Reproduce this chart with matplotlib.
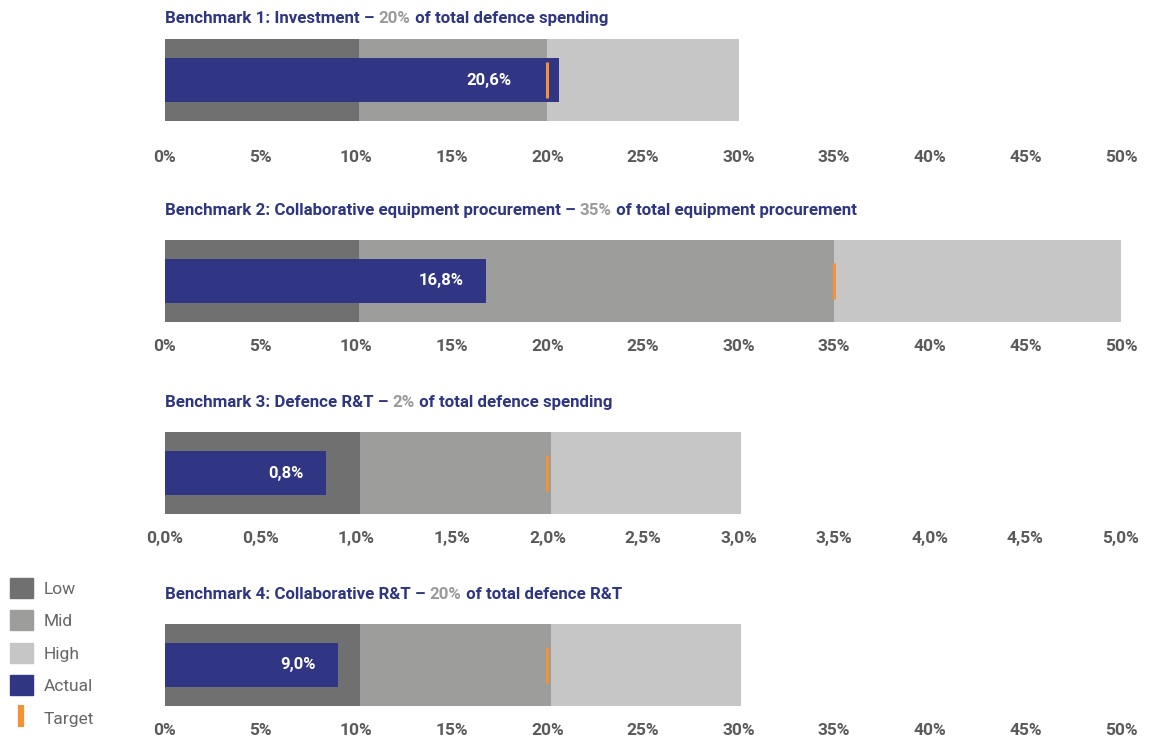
import matplotlib.pyplot as plt
from matplotlib.patches import Patch
from matplotlib.lines import Line2D

plt.rcParams['font.family'] = ['Roboto', 'DejaVu Sans']

# data
title_start = ['Benchmark 1: Investment – ',
               'Benchmark 2: Collaborative equipment procurement – ',
               'Benchmark 3: Defence R&T – ',
               'Benchmark 4: Collaborative R&T – ']
title_target = ['20%', '35%', '2%', '20%']
title_end = [' of total defence spending',
             ' of total equipment procurement',
             ' of total defence spending',
             ' of total defence R&T']

low = [10.15, 10.15, 1.02, 10.2]
mid = [20, 35, 2.02, 20.2]
high = [30, 50, 3.01, 30.1]
actual = [20.6, 16.8, 0.84, 9.04]
target = [20, 35, 2, 20]

axis_max = [50, 50, 5, 50]
tick_step = [5, 5, 0.5, 5]
decimals = [0, 0, 1, 0]

c_low = '#707070'
c_mid = '#9d9d9c'
c_high = '#c6c6c6'
c_actual = '#303584'
c_target = '#f39237'
c_title = '#2e3583'
c_ticks = '#5a5a5a'

fig = plt.figure(figsize=(11.5, 7.36), dpi=100)

W, H = 1150, 736
bands = [(39, 121), (240, 322), (432, 514), (624, 706)]  # pixel top/bottom
tick_pad = [21, 12, 12, 12]
title_off = [15, 21, 21, 21]

for i in range(4):
    top, bot = bands[i]
    ax = fig.add_axes([165 / W, 1 - bot / H, 956 / W, (bot - top) / H])

    # ranges
    ax.barh(0.5, high[i], height=1, color=c_high, zorder=1)
    ax.barh(0.5, mid[i], height=1, color=c_mid, zorder=2)
    ax.barh(0.5, low[i], height=1, color=c_low, zorder=3)
    # actual
    ax.barh(0.5, actual[i], height=0.54, color=c_actual, zorder=4)
    # target
    ax.plot([target[i], target[i]], [0.28, 0.72], color=c_target,
            lw=2.2, solid_capstyle='butt', zorder=5)

    # value label
    lbl = f'{actual[i]:.1f}%'.replace('.', ',')
    if target[i] < actual[i]:
        xpos, off = target[i], -26
    else:
        xpos, off = actual[i], -16
    ax.annotate(lbl, xy=(xpos, 0.5), xytext=(off, 0), textcoords='offset points',
                ha='right', va='center', color='white', fontsize=12,
                fontweight='bold', zorder=6)

    ax.set_xlim(0, axis_max[i])
    ax.set_ylim(0, 1)
    n = int(round(axis_max[i] / tick_step[i]))
    ticks = [k * tick_step[i] for k in range(n + 1)]
    ax.set_xticks(ticks)
    ax.set_xticklabels([f'{t:.{decimals[i]}f}%'.replace('.', ',') for t in ticks])
    ax.set_yticks([])
    ax.tick_params(axis='x', length=0, pad=tick_pad[i], labelsize=12.5,
                   labelcolor=c_ticks)
    for lab in ax.get_xticklabels():
        lab.set_fontweight('bold')
    for s in ax.spines.values():
        s.set_visible(False)

    # title in three colours
    t1 = ax.annotate(title_start[i], xy=(0, 1), xycoords='axes fraction',
                     xytext=(0, title_off[i]), textcoords='offset points',
                     ha='left', va='center', color=c_title,
                     fontsize=12.2, fontweight='bold')
    t2 = ax.annotate(title_target[i], xy=(1, 0), xycoords=t1,
                     ha='left', va='bottom', color='#9a9a9a',
                     fontsize=12.2, fontweight='bold')
    ax.annotate(title_end[i], xy=(1, 0), xycoords=t2,
                ha='left', va='bottom', color=c_title,
                fontsize=12.2, fontweight='bold')

handles = [Patch(color=c_low), Patch(color=c_mid), Patch(color=c_high),
           Patch(color=c_actual),
           Line2D([], [], marker='|', ls='none', color=c_target,
                  markersize=16, mew=4.5)]
fig.legend(handles, ['Low', 'Mid', 'High', 'Actual', 'Target'],
           loc='lower left', bbox_to_anchor=(10 / W, 8 / H), frameon=False,
           fontsize=12.5, handlelength=1.32, handleheight=1.4,
           labelspacing=0.72, handletextpad=0.6, labelcolor='#666666',
           borderpad=0, borderaxespad=0)

fig.savefig('out.png', dpi=100)
